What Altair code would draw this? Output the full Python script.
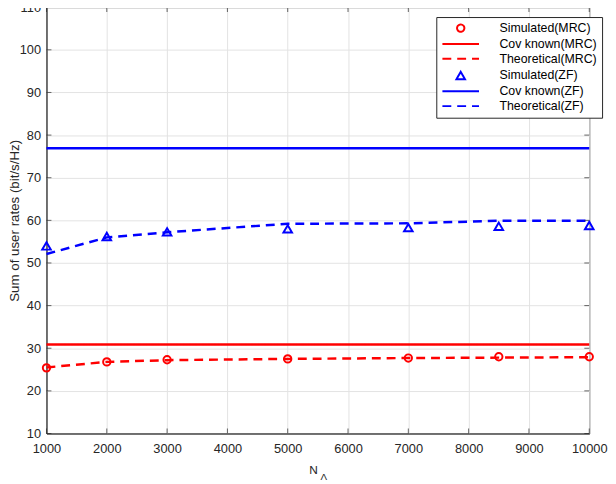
import altair as alt
import pandas as pd

# ---- data ----
N = [1000, 2000, 3000, 5000, 7000, 8500, 10000]
sim_mrc = [25.4, 26.8, 27.3, 27.5, 27.7, 28.0, 28.0]
cov_mrc = [30.9, 30.9, 30.9, 30.9, 30.9, 30.9, 30.9]
theo_mrc = [25.5, 26.8, 27.2, 27.5, 27.7, 27.8, 27.9]
sim_zf = [54.0, 56.2, 57.3, 58.0, 58.3, 58.6, 58.8]
cov_zf = [76.9, 76.9, 76.9, 76.9, 76.9, 76.9, 76.9]
theo_zf = [52.1, 56.0, 57.2, 59.2, 59.3, 59.9, 59.9]

series_names = ["Simulated(MRC)", "Cov known(MRC)", "Theoretical(MRC)",
                "Simulated(ZF)", "Cov known(ZF)", "Theoretical(ZF)"]
series_colors = ["#ff0000", "#ff0000", "#ff0000", "#0000ff", "#0000ff", "#0000ff"]
LINE_SYM = "M-4,0H4"
series_shapes = ["circle", LINE_SYM, LINE_SYM, "triangle-up", LINE_SYM, LINE_SYM]
series_dashes = [[1, 0], [1, 0], [9, 6], [1, 0], [1, 0], [9, 6]]
series_sizes = [55, 86, 86, 75, 86, 86]

x_ticks = [1000, 2000, 3000, 4000, 5000, 6000, 7000, 8000, 9000, 10000]
y_ticks = [10, 20, 30, 40, 50, 60, 70, 80, 90, 100, 110]

line_rows = []
for name, vals in [("Cov known(MRC)", cov_mrc), ("Theoretical(MRC)", theo_mrc),
                   ("Cov known(ZF)", cov_zf), ("Theoretical(ZF)", theo_zf)]:
    for n, v in zip(N, vals):
        line_rows.append({"N": n, "value": v, "series": name})
lines_df = pd.DataFrame(line_rows)

pt_rows = []
for name, vals in [("Simulated(MRC)", sim_mrc), ("Simulated(ZF)", sim_zf)]:
    for n, v in zip(N, vals):
        pt_rows.append({"N": n, "value": v, "series": name})
points_df = pd.DataFrame(pt_rows)

W, H = 550, 432
FONT = "Liberation Sans"
DARK = "#262626"

x_enc = alt.X("N:Q",
              scale=alt.Scale(domain=[1000, 10000], nice=False, zero=False),
              axis=alt.Axis(values=x_ticks, format="d", title="N", ticks=False,
                            labelFlush=False, labelPadding=9,
                            titleX=270, titleY=40.5, titleFontSize=12,
                            titleAlign="center", titleBaseline="alphabetic"))
y_enc = alt.Y("value:Q",
              scale=alt.Scale(domain=[10, 110], nice=False, zero=False),
              axis=alt.Axis(values=y_ticks, title="Sum of user rates (bit/s/Hz)",
                            ticks=False, labelFlush=False, labelPadding=6,
                            titleX=-25, titleFontSize=13.5,
                            titleBaseline="bottom"))

leg = alt.Legend(orient="none", legendX=395, legendY=10, title=None)
color_enc = alt.Color("series:N",
                      scale=alt.Scale(domain=series_names, range=series_colors),
                      legend=leg)
dash_enc = alt.StrokeDash("series:N",
                          scale=alt.Scale(type="ordinal", domain=series_names,
                                          range=series_dashes),
                          legend=leg)
shape_enc = alt.Shape("series:N",
                      scale=alt.Scale(type="ordinal", domain=series_names,
                                      range=series_shapes),
                      legend=leg)
size_enc = alt.Size("series:N",
                    scale=alt.Scale(type="ordinal", domain=series_names,
                                    range=series_sizes),
                    legend=leg)

lines = alt.Chart(lines_df).mark_line(strokeWidth=2.5).encode(
    x=x_enc, y=y_enc, color=color_enc, strokeDash=dash_enc,
    detail="series:N")

points = alt.Chart(points_df).mark_point(filled=False, strokeWidth=2, opacity=1).encode(
    x=x_enc, y=y_enc, color=color_enc, shape=shape_enc, size=size_enc)

ytdf = pd.DataFrame({"value": y_ticks})
xtdf = pd.DataFrame({"N": x_ticks})
tick_style = dict(thickness=1, size=5, color=DARK)
left_t = alt.Chart(ytdf).mark_tick(orient="horizontal", **tick_style).encode(
    y=y_enc, x=alt.value(2.5))
right_t = alt.Chart(ytdf).mark_tick(orient="horizontal", **tick_style).encode(
    y=y_enc, x=alt.value(W - 2.5))
bot_t = alt.Chart(xtdf).mark_tick(orient="vertical", **tick_style).encode(
    x=x_enc, y=alt.value(H - 2.5))
top_t = alt.Chart(xtdf).mark_tick(orient="vertical", **tick_style).encode(
    x=x_enc, y=alt.value(2.5))

sub = alt.Chart(pd.DataFrame({"t": ["Λ"]})).mark_text(
    font=FONT, fontSize=10, color=DARK, align="center", baseline="alphabetic"
).encode(text="t:N", x=alt.value(281), y=alt.value(479))

chart = alt.layer(lines, points, left_t, right_t, bot_t, top_t, sub).properties(
    width=W, height=H,
    padding={"left": 39, "top": -4, "right": 19, "bottom": 48},
    autosize=alt.AutoSizeParams(type="none"),
).configure_view(
    stroke=DARK, strokeWidth=1
).configure_axis(
    labelFont=FONT, labelFontSize=13, labelColor=DARK,
    titleFont=FONT, titleColor=DARK, titleFontWeight="normal",
    domainColor=DARK, domainWidth=1,
    gridColor="#e3e3e3", gridWidth=1, gridOpacity=1,
).configure_legend(
    labelFont=FONT, labelFontSize=12.5, labelColor="black",
    strokeColor=DARK, fillColor="white", padding=5,
    symbolStrokeWidth=2, symbolOffset=13.5, labelOffset=33, rowPadding=2,
    cornerRadius=0,
)

chart.save("out.html", embed_options={"renderer": "svg", "actions": False})
